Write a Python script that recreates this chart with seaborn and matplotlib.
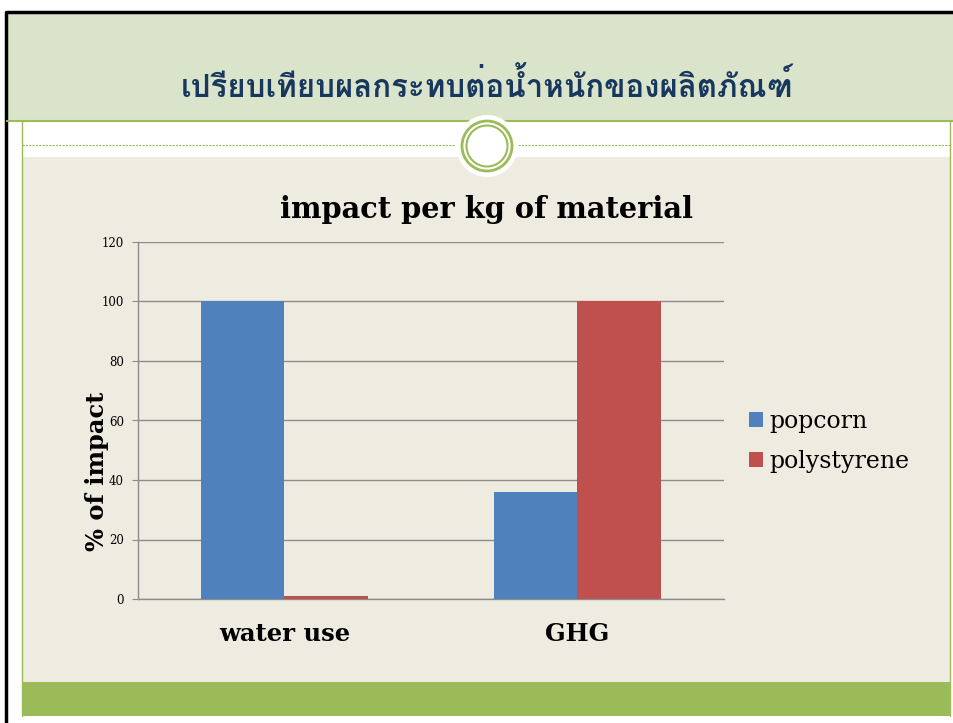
import matplotlib
matplotlib.use('Agg')
import matplotlib.pyplot as plt
from matplotlib import font_manager
from matplotlib.ft2font import FT2Font
from matplotlib.patches import Rectangle, Ellipse
from matplotlib.lines import Line2D
import seaborn as sns
import pandas as pd

# data
categories = ['water use', 'GHG']
materials = ['popcorn', 'polystyrene']
popcorn = [100, 36]
polystyrene = [1, 100]
yticks = [0, 20, 40, 60, 80, 100, 120]

slide_title = 'เปรียบเทียบผลกระทบต่อน้ำหนักของผลิตภัณฑ์'
chart_title = 'impact per kg of material'
y_label = '% of impact'

BLUE = '#4F81BD'
RED = '#C0504D'
GREEN = '#9BBB59'
HEADER = '#DAE4CB'
BEIGE = '#EEEBE0'
NAVY = '#17375E'

W, H = 954, 723


def thai_font():
    # pick any installed family that actually has Thai glyphs
    for f in font_manager.fontManager.ttflist:
        try:
            if ord('ก') in FT2Font(f.fname).get_charmap():
                return f.name
        except Exception:
            pass
    return 'DejaVu Sans'


def fx(x):
    return x / W


def fy(y):
    return 1 - y / H


def rect(fig, x0, y0, x1, y1, color, z=-5):
    fig.patches.append(Rectangle((fx(x0), fy(y1)), fx(x1) - fx(x0), fy(y0) - fy(y1),
                                 transform=fig.transFigure, facecolor=color,
                                 edgecolor='none', zorder=z))


def line(fig, xs, ys, **kw):
    fig.lines.append(Line2D([fx(x) for x in xs], [fy(y) for y in ys],
                            transform=fig.transFigure, zorder=-4, **kw))


sns.set_style('white')
plt.rcParams['font.family'] = ['DejaVu Serif']
plt.rcParams['text.color'] = 'black'
plt.rcParams['xtick.color'] = 'black'
plt.rcParams['ytick.color'] = 'black'

fig = plt.figure(figsize=(W / 100, H / 100), dpi=100)
fig.patch.set_facecolor('white')

# slide background pieces
rect(fig, 7, 12, W, 121, HEADER)
rect(fig, 22, 157, 950, 682, BEIGE)
rect(fig, 22, 682, 950, 716, GREEN)
line(fig, [7, W], [12, 12], color='black', lw=2.5)
line(fig, [6, 6], [12, H], color='black', lw=2.5)
line(fig, [7, W], [121, 121], color=GREEN, lw=1.5)
line(fig, [22, 22], [121, 716], color=GREEN, lw=1)
line(fig, [950, 950], [121, 716], color=GREEN, lw=1)
line(fig, [22, 456], [145, 145], color=GREEN, lw=0.8, ls=(0, (2, 1)))
line(fig, [518, 950], [145, 145], color=GREEN, lw=0.8, ls=(0, (2, 1)))
fig.patches.append(Ellipse((fx(487), fy(146)), 62 / W, 62 / H, transform=fig.transFigure,
                           facecolor='white', edgecolor='none', zorder=-3))
fig.patches.append(Ellipse((fx(487), fy(146)), 50 / W, 50 / H, transform=fig.transFigure,
                           facecolor='white', edgecolor=GREEN, lw=2, zorder=-2))
fig.patches.append(Ellipse((fx(487), fy(146)), 41 / W, 41 / H, transform=fig.transFigure,
                           facecolor='none', edgecolor=GREEN, lw=1.5, zorder=-1))

fig.text(fx(487), fy(86), slide_title, ha='center', va='center', fontsize=22.5,
         fontweight='bold', color=NAVY, family=[thai_font(), 'DejaVu Sans'])

# chart
df = pd.DataFrame({
    'category': categories * 2,
    'material': [materials[0]] * 2 + [materials[1]] * 2,
    'value': popcorn + polystyrene,
})

ax = fig.add_axes([fx(138), fy(599), fx(724) - fx(138), fy(242) - fy(599)])
ax.set_zorder(10)
ax.set_facecolor('none')
sns.barplot(data=df, x='category', y='value', hue='material', order=categories,
            hue_order=materials, palette=[BLUE, RED], saturation=1, width=0.57,
            gap=0, ax=ax, errorbar=None, linewidth=0, zorder=3)

ax.set_ylim(0, 120)
ax.set_yticks(yticks)
ax.set_xlim(-0.5, 1.5)
ax.grid(axis='y', color='#8C8C8C', lw=1, zorder=0)
ax.set_axisbelow(True)
for s in ['top', 'right']:
    ax.spines[s].set_visible(False)
for s in ['left', 'bottom']:
    ax.spines[s].set_color('#8C8C8C')
    ax.spines[s].set_linewidth(1)
ax.tick_params(axis='y', left=True, length=4, color='#8C8C8C', labelsize=8.5, pad=6)
ax.tick_params(axis='x', bottom=False, labelsize=17.5, pad=13)
for t in ax.get_xticklabels():
    t.set_fontweight('bold')
ax.set_xlabel('')
ax.set_ylabel('')

fig.text(fx(487), fy(209), chart_title, ha='center', va='center', fontsize=20.8,
         fontweight='bold')
fig.text(fx(97), fy(471), y_label, ha='center', va='center', rotation=90,
         fontsize=17.4, fontweight='bold')

handles, labels = ax.get_legend_handles_labels()
ax.legend(handles, labels, loc='center left', bbox_to_anchor=(fx(728), fy(441)),
          bbox_transform=fig.transFigure, frameon=False, fontsize=17,
          handlelength=0.6, handleheight=0.6, handletextpad=0.25, labelspacing=0.72)

fig.savefig('out.png', dpi=100)
